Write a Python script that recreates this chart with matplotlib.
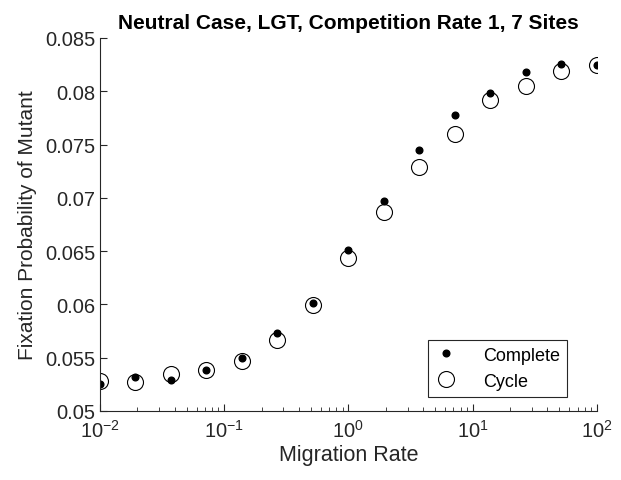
import matplotlib
matplotlib.use('Agg')
import matplotlib.pyplot as plt
from matplotlib.ticker import FuncFormatter, LogLocator, MultipleLocator

plt.rcParams['font.family'] = ['Liberation Sans', 'DejaVu Sans']
plt.rcParams['mathtext.fontset'] = 'custom'
plt.rcParams['mathtext.rm'] = 'Liberation Sans'

# migration rates (log-spaced, 15 values from 1e-2 to 1e2)
migration_rate = [0.01, 0.01931, 0.03728, 0.07197, 0.1389, 0.2683, 0.5179, 1.0,
                  1.931, 3.728, 7.197, 13.89, 26.83, 51.79, 100.0]
complete = [0.05250, 0.05322, 0.05288, 0.05385, 0.05494, 0.05736, 0.06013, 0.06511,
            0.06971, 0.07453, 0.07775, 0.07981, 0.08184, 0.08259, 0.08250]
cycle = [0.05279, 0.05269, 0.05344, 0.05388, 0.05469, 0.05668, 0.05995, 0.06433,
         0.06864, 0.07290, 0.07599, 0.07918, 0.08047, 0.08187, 0.08250]

fig = plt.figure(figsize=(6.21, 4.81), dpi=100)
ax = fig.add_axes([0.161, 0.1435, 0.8, 0.7755])

ax.plot(migration_rate, complete, linestyle='none', marker='o', ms=4.8,
        color='black', label='Complete')
ax.plot(migration_rate, cycle, linestyle='none', marker='o', ms=11.5,
        mfc='none', mec='black', mew=0.8, label='Cycle')

ax.set_xscale('log')
ax.set_xlim(1e-2, 1e2)
ax.set_ylim(0.05, 0.085)
ax.yaxis.set_major_locator(MultipleLocator(0.005))
ax.yaxis.set_major_formatter(FuncFormatter(lambda v, p: '%g' % round(v, 4)))
ax.xaxis.set_major_locator(LogLocator(base=10, numticks=10))
ax.xaxis.set_minor_locator(LogLocator(base=10, subs=range(2, 10), numticks=20))

for side in ['top', 'right']:
    ax.spines[side].set_visible(False)
for side in ['left', 'bottom']:
    ax.spines[side].set_color('#262626')
    ax.spines[side].set_linewidth(0.8)
ax.tick_params(which='both', direction='in', colors='#262626', labelsize=14.5)
ax.tick_params(which='major', length=5)
ax.tick_params(which='minor', length=3)
ax.tick_params(axis='x', pad=6)

ax.set_xlabel('Migration Rate', fontsize=15.5, color='#262626', labelpad=2)
ax.set_ylabel('Fixation Probability of Mutant', fontsize=15, color='#262626',
              labelpad=6)
ax.set_title('Neutral Case, LGT, Competition Rate 1, 7 Sites', fontsize=15,
             fontweight='bold', pad=7)

leg = ax.legend(loc='lower right', fontsize=13, fancybox=False, framealpha=1,
                edgecolor='#262626', borderaxespad=0, handlelength=1.2,
                handletextpad=1.45, borderpad=0.4,
                bbox_to_anchor=(0.94, 0.0375))
leg.get_frame().set_linewidth(0.8)

fig.savefig('out.png', dpi=100)
